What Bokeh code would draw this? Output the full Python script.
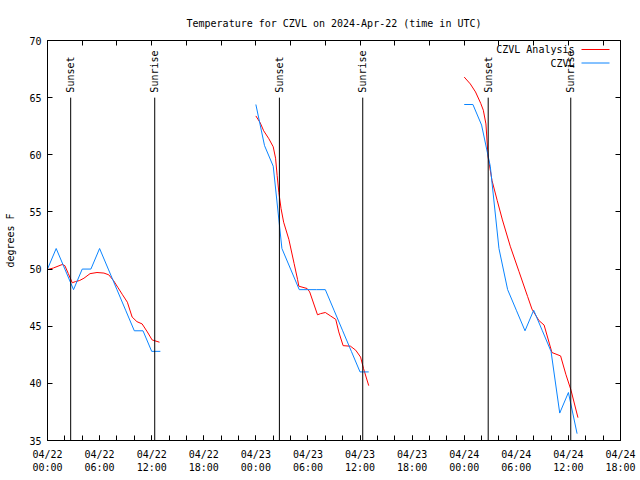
import math
from bokeh.plotting import figure
from bokeh.models import FixedTicker, LinearAxis, Range1d, CustomJSTickFormatter
from bokeh.core.properties import value
from bokeh.embed import file_html
from bokeh.resources import INLINE

FONT = "DejaVu Sans Mono"

# ---- data (hours since 2024-04-22 00:00 UTC, temperature in degrees F) ----
obs_hours_1 = [0, 1, 2, 3, 4, 5, 6, 7, 8, 9, 10, 11, 12, 13]
obs_temp_1 = [50.0, 51.8, 50.0, 48.2, 50.0, 50.0, 51.8, 50.0, 48.2, 46.4, 44.6, 44.6, 42.8, 42.8]
obs_hours_2 = [24, 25, 26, 27, 28, 29, 30, 31, 32, 33, 34, 35, 36, 37]
obs_temp_2 = [64.4, 60.8, 59.0, 51.8, 50.0, 48.2, 48.2, 48.2, 48.2, 46.4, 44.6, 42.8, 41.0, 41.0]
obs_hours_3 = [48, 49, 50, 51, 52, 53, 54, 55, 56, 57, 58, 59, 60, 61]
obs_temp_3 = [64.4, 64.4, 62.6, 59.0, 51.8, 48.2, 46.4, 44.6, 46.4, 44.6, 42.8, 37.4, 39.2, 35.6]

ana_hours_1 = [0, 0.7, 1.7, 2.0, 2.4, 2.85, 3.2, 3.7, 4.2, 4.9, 5.7, 6.5, 7.05, 7.6, 8.1, 8.6,
               9.2, 9.75, 10.3, 10.9, 11.5, 12.05, 12.9]
ana_temp_1 = [49.95, 50.1, 50.4, 50.3, 49.6, 48.8, 48.9, 49.0, 49.2, 49.6, 49.7, 49.65, 49.5, 49.0,
              48.4, 47.8, 47.1, 45.8, 45.4, 45.2, 44.5, 43.8, 43.6]
ana_hours_2 = [24.0, 24.5, 24.9, 25.5, 26.0, 26.27, 26.45, 26.65, 26.9, 27.2, 27.8, 28.4, 28.8,
               28.95, 29.9, 30.2, 31.1, 31.45, 32.0, 32.6, 33.2, 33.55, 34.05, 34.9, 35.5, 36.06,
               36.4, 37.0]
ana_temp_2 = [63.4, 62.8, 62.1, 61.4, 60.7, 59.7, 58.2, 56.7, 55.3, 54.1, 52.6, 50.5, 49.1,
              48.5, 48.3, 48.0, 46.0, 46.1, 46.2, 45.9, 45.6, 44.5, 43.3, 43.25, 42.9, 42.3,
              41.3, 39.8]
ana_hours_3 = [48.0, 48.7, 49.3, 49.9, 50.2, 50.5, 50.75, 51.2, 51.8, 52.4, 53.3, 54.3, 55.3,
               55.8, 56.6, 57.2, 58.1, 59.1, 59.7, 60.3, 61.1]
ana_temp_3 = [66.8, 66.2, 65.5, 64.5, 63.9, 62.7, 59.8, 57.75, 56.0, 54.3, 52.0, 49.8, 47.6,
              46.5, 45.5, 45.1, 42.7, 42.4, 40.8, 39.4, 37.0]

sunset_hours = [2.67, 26.71, 50.76]
sunrise_hours = [12.35, 36.31, 60.27]

tick_hours = [0, 6, 12, 18, 24, 30, 36, 42, 48, 54, 60, 66]
tick_labels = ["04/22\n00:00", "04/22\n06:00", "04/22\n12:00", "04/22\n18:00",
               "04/23\n00:00", "04/23\n06:00", "04/23\n12:00", "04/23\n18:00",
               "04/24\n00:00", "04/24\n06:00", "04/24\n12:00", "04/24\n18:00"]
y_ticks = [35, 40, 45, 50, 55, 60, 65, 70]

X0, X1 = 0, 66
Y0, Y1 = 35, 70

p = figure(width=640, height=480, output_backend="svg", toolbar_location=None,
           x_range=Range1d(X0, X1), y_range=Range1d(Y0, Y1),
           min_border_left=47, min_border_right=20, min_border_top=40, min_border_bottom=40,
           title="Temperature for CZVL on 2024-Apr-22 (time in UTC)")
p.title.align = "center"
p.title.text_font = FONT
p.title.text_font_size = "10px"
p.title.text_font_style = "normal"
p.title.text_color = "black"
p.title.standoff = 24
p.grid.visible = False
p.outline_line_color = "black"
p.background_fill_color = "white"
p.border_fill_color = "white"

# bottom axis
xa = p.xaxis[0]
xa.ticker = FixedTicker(ticks=tick_hours, minor_ticks=list(range(0, 67, 2)))
xa.major_label_overrides = {h: l for h, l in zip(tick_hours, tick_labels)}
xa.major_label_text_font = FONT
xa.major_label_text_font_size = "10px"
xa.major_label_text_color = "black"
xa.major_label_standoff = 8
xa.major_tick_in = 5
xa.major_tick_out = 0
xa.minor_tick_in = 5
xa.minor_tick_out = 0
xa.axis_line_color = "black"

# left axis
ya = p.yaxis[0]
ya.ticker = FixedTicker(ticks=y_ticks, minor_ticks=[])
ya.major_label_text_font = FONT
ya.major_label_text_font_size = "10px"
ya.major_label_text_color = "black"
ya.major_label_standoff = 6
ya.major_tick_in = 5
ya.major_tick_out = 0
ya.minor_tick_line_color = None
ya.axis_label = "degrees F"
ya.axis_label_text_font = FONT
ya.axis_label_text_font_size = "10px"
ya.axis_label_text_font_style = "normal"
ya.axis_label_text_color = "black"
ya.axis_label_standoff = 10

blank = CustomJSTickFormatter(code="return ''")
top = LinearAxis(ticker=FixedTicker(ticks=list(range(0, 67, 4)), minor_ticks=[]),
                 formatter=blank, major_tick_in=5, major_tick_out=0,
                 minor_tick_line_color=None, major_label_text_font_size="1px")
p.add_layout(top, "above")
right = LinearAxis(ticker=FixedTicker(ticks=y_ticks, minor_ticks=[]),
                   formatter=blank, major_tick_in=5, major_tick_out=0,
                   minor_tick_line_color=None, major_label_text_font_size="1px")
p.add_layout(right, "right")

RED = "#ff0000"
BLUE = "#0a84ff"
for hx, ty in [(ana_hours_1, ana_temp_1), (ana_hours_2, ana_temp_2), (ana_hours_3, ana_temp_3)]:
    p.line(hx, ty, line_color=RED, line_width=1)
for hx, ty in [(obs_hours_1, obs_temp_1), (obs_hours_2, obs_temp_2), (obs_hours_3, obs_temp_3)]:
    p.line(hx, ty, line_color=BLUE, line_width=1)

line_top = 65.0
events = sunset_hours + sunrise_hours
names = ["Sunset"] * len(sunset_hours) + ["Sunrise"] * len(sunrise_hours)
p.segment(x0=events, y0=[Y0] * len(events), x1=events, y1=[line_top] * len(events),
          line_color="black", line_width=1)
p.text(x=events, y=[line_top] * len(events), text=names, angle=math.pi / 2,
       text_align="left", text_baseline="middle", y_offset=-5,
       text_font=value(FONT), text_font_size="10px", text_color="black")

# legend (gnuplot style: text then line sample)
px_per_h = 573 / (X1 - X0)
px_per_deg = 400 / (Y1 - Y0)
leg_text_x = X1 - 46 / px_per_h
leg_l0 = X1 - 39 / px_per_h
leg_l1 = X1 - 11 / px_per_h
leg_y = [Y1 - 9 / px_per_deg, Y1 - 22.5 / px_per_deg]
p.text(x=[leg_text_x, leg_text_x], y=leg_y, text=["CZVL Analysis", "CZVL"],
       text_align="right", text_baseline="middle",
       text_font=value(FONT), text_font_size="10px", text_color="black")
p.segment(x0=[leg_l0, leg_l0], y0=leg_y, x1=[leg_l1, leg_l1], y1=leg_y,
          line_color=[RED, BLUE], line_width=1)

open("out.html", "w").write(file_html(p, INLINE))
